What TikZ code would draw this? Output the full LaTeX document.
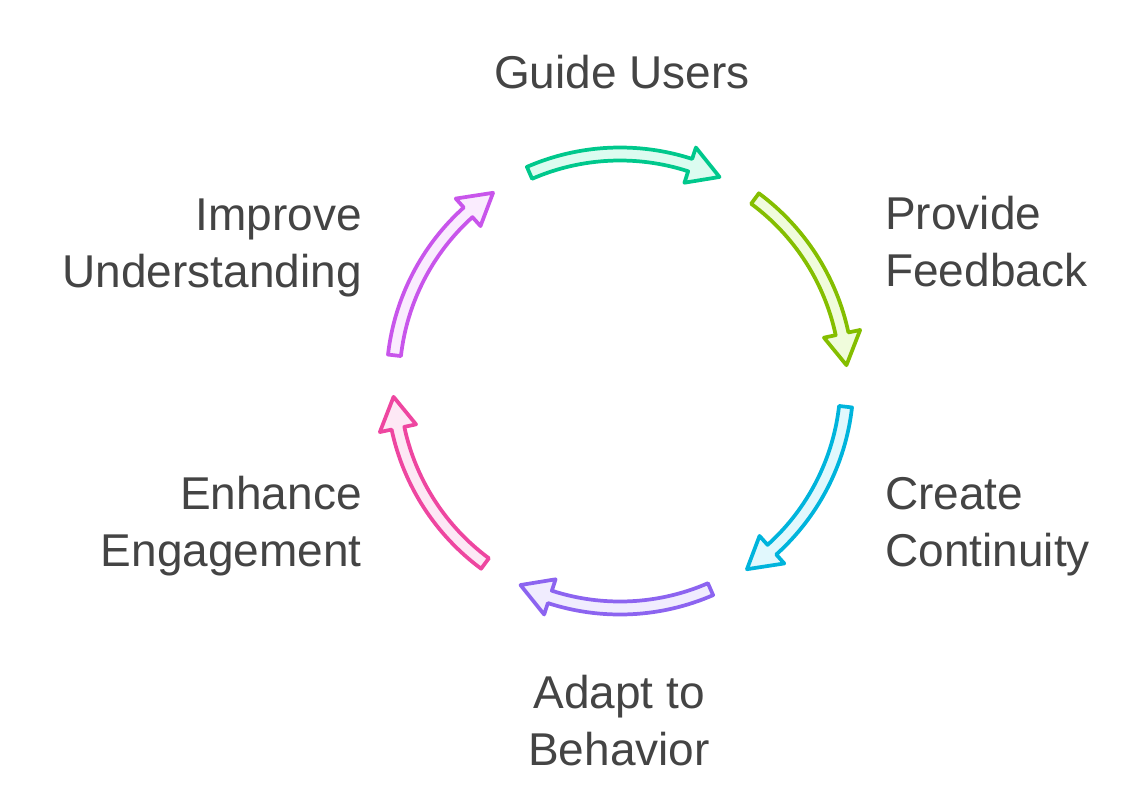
\documentclass[tikz,border=0pt]{standalone}
\usepackage{fontspec}
\setmainfont{Liberation Sans}
\usepackage{tikz}
\usetikzlibrary{positioning,calc}

\definecolor{guideline}{RGB}{0,200,140}
\definecolor{guidefill}{RGB}{220,252,240}
\definecolor{feedline}{RGB}{132,190,0}
\definecolor{feedfill}{RGB}{240,252,220}
\definecolor{contline}{RGB}{0,180,220}
\definecolor{contfill}{RGB}{225,248,253}
\definecolor{adaptline}{RGB}{140,100,240}
\definecolor{adaptfill}{RGB}{240,236,254}
\definecolor{engline}{RGB}{238,70,160}
\definecolor{engfill}{RGB}{253,232,245}
\definecolor{impline}{RGB}{200,85,235}
\definecolor{impfill}{RGB}{250,236,254}
\definecolor{labelgray}{RGB}{68,68,68}

\tikzset{
  cycle label/.style={inner sep=0pt, text=labelgray,
    font=\fontsize{34.5pt}{42.75pt}\selectfont},
  cycle arrow/.style={line width=2.8pt, line join=round}
}

\begin{document}
\begin{tikzpicture}[x=0.75pt,y=0.75pt,yscale=-1,xscale=1]
\useasboundingbox (0,0) rectangle (1148,800);

% Curved arrows round the centre (620,381); angles run clockwise on the page
\begin{scope}[shift={(620,381)}]
\foreach \tail/\tip/\stroke/\filling in {
    -113.5/-64/guideline/guidefill,
    -53.5/-4/feedline/feedfill,
    6.5/56/contline/contfill,
    66.5/116/adaptline/adaptfill,
    126.5/176/engline/engfill,
    186.5/236/impline/impfill}{
  \pgfmathsetmacro{\headbase}{\tip-8}
  \draw[cycle arrow, draw=\stroke, fill=\filling]
    (\tail:233.5) arc[start angle=\tail, end angle=\headbase, radius=233.5]
    -- (\headbase:245.5) -- (\tip:227) -- (\headbase:208.5)
    -- (\headbase:220.5) arc[start angle=\headbase, end angle=\tail, radius=220.5]
    -- cycle;
}
\end{scope}

% Text Nodes (base anchor sits on the last line)
\node[cycle label, anchor=base] (guide) at (622,88) {Guide Users};
\node[cycle label, anchor=base west, align=left] (feedback) at (885,286) {Provide\\Feedback};
\node[cycle label, anchor=base west, align=left] (continuity) at (885,566) {Create\\Continuity};
\node[cycle label, anchor=base, align=center] (adapt) at (619,765) {Adapt to\\Behavior};
\node[cycle label, anchor=base east, align=right] (engage) at (362,566) {Enhance\\Engagement};
\node[cycle label, anchor=base east, align=right] (improve) at (362,287) {Improve\\Understanding};
\end{tikzpicture}
\end{document}
